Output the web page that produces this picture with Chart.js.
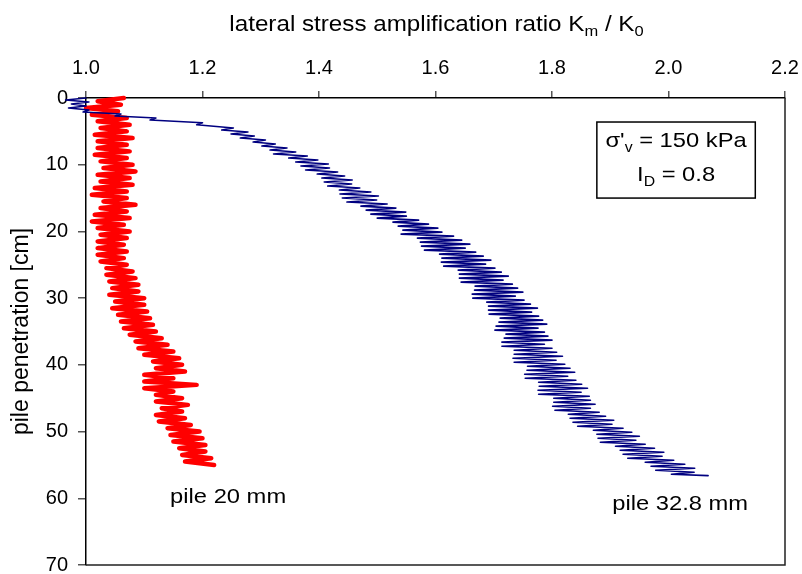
<!DOCTYPE html>
<html>
<head>
<meta charset="utf-8">
<script src="https://cdn.jsdelivr.net/npm/chart.js@4.4.1/dist/chart.umd.min.js"></script>
<style>
  html, body { margin: 0; padding: 0; background: #ffffff; }
  #grafico { display: block; }
</style>
</head>
<body>
<canvas id="grafico" width="802" height="574"></canvas>
<script>
// profundidad de penetración [cm] y relación Km/K0
const depthRed = [0,0.5,1,1.5,2,2.5,3,3.5,4,4.5,5,5.5,6,6.5,7,7.5,8,8.5,9,9.5,
  10,10.5,11,11.5,12,12.5,13,13.5,14,14.5,15,15.5,16,16.5,17,17.5,18,18.5,19,19.5,
  20,20.5,21,21.5,22,22.5,23,23.5,24,24.5,25,25.5,26,26.5,27,27.5,28,28.5,29,29.5,
  30,30.5,31,31.5,32,32.5,33,33.5,34,34.5,35,35.5,36,36.5,37,37.5,38,38.5,39,39.5,
  40,40.5,41,41.5,42,42.5,43,43.5,44,44.5,45,45.5,46,46.5,47,47.5,48,48.5,49,49.5,
  50,50.5,51,51.5,52,52.5,53,53.5,54,54.5,55];
const ratioRed = [1.065,1.02,1.06,1.0,1.055,1.01,1.07,1.02,1.075,1.025,1.07,1.015,1.08,1.02,1.07,1.02,1.075,1.015,1.07,1.025,
  1.08,1.03,1.085,1.02,1.075,1.025,1.08,1.015,1.07,1.01,1.07,1.03,1.085,1.025,1.07,1.015,1.075,1.01,1.065,1.02,
  1.075,1.025,1.07,1.02,1.065,1.02,1.07,1.02,1.065,1.025,1.07,1.035,1.08,1.035,1.085,1.04,1.09,1.045,1.09,1.04,
  1.1,1.05,1.1,1.045,1.105,1.055,1.11,1.06,1.115,1.065,1.12,1.075,1.13,1.085,1.14,1.09,1.15,1.1,1.16,1.115,
  1.165,1.12,1.17,1.1,1.15,1.1,1.19,1.1,1.15,1.12,1.165,1.12,1.175,1.13,1.165,1.12,1.17,1.125,1.18,1.14,
  1.195,1.145,1.2,1.15,1.205,1.16,1.205,1.165,1.215,1.17,1.22];

const depthBlue = [0,0.3,0.6,0.9,1.2,1.5,1.8,2.1,2.4,2.7,3,3.3,3.7,4,
  4.5,4.8,5.1,5.4,5.7,6,6.3,6.6,6.9,7.2,7.5,7.8,8.1,8.4,8.7,9,9.3,9.6,9.9,
  10.2,10.5,10.8,11.1,11.4,11.7,12,12.3,12.6,12.9,13.2,13.5,13.8,14.1,14.4,14.7,15,15.3,15.6,15.9,
  16.2,16.5,16.8,17.1,17.4,17.7,18,18.3,18.6,18.9,19.2,19.5,19.8,20.1,20.4,20.7,21,21.3,21.6,21.9,
  22.2,22.5,22.8,23.1,23.4,23.7,24,24.3,24.6,24.9,25.2,25.5,25.8,26.1,26.4,26.7,27,27.3,27.6,27.9,
  28.2,28.5,28.8,29.1,29.4,29.7,30,30.3,30.6,30.9,31.2,31.5,31.8,32.1,32.4,32.7,33,33.3,33.6,33.9,
  34.2,34.5,34.8,35.1,35.4,35.7,36,36.3,36.6,36.9,37.2,37.5,37.8,38.1,38.4,38.7,39,39.3,39.6,39.9,
  40.2,40.5,40.8,41.1,41.4,41.7,42,42.3,42.6,42.9,43.2,43.5,43.8,44.1,44.4,44.7,45,45.3,45.6,45.9,
  46.2,46.5,46.8,47.1,47.4,47.7,48,48.3,48.6,48.9,49.2,49.5,49.8,50.1,50.4,50.7,51,51.3,51.6,51.9,
  52.2,52.5,52.8,53.1,53.4,53.7,54,54.3,54.6,54.9,55.2,55.5,55.8,56.1,56.4,56.6];
const ratioBlue = [1.0,0.965,1.005,0.975,1.0,0.97,1.005,0.995,1.06,1.05,1.12,1.11,1.2,1.19,
  1.253,1.233,1.278,1.249,1.289,1.265,1.308,1.287,1.325,1.302,1.345,1.316,1.360,1.322,1.380,1.348,1.398,1.360,1.416,
  1.369,1.418,1.377,1.432,1.397,1.444,1.405,1.457,1.409,1.456,1.415,1.470,1.435,1.489,1.436,1.502,1.440,1.499,1.448,1.517,
  1.472,1.532,1.481,1.549,1.489,1.550,1.500,1.571,1.527,1.588,1.536,1.604,1.544,1.611,1.541,1.631,1.569,1.645,1.574,1.659,
  1.576,1.651,1.581,1.669,1.607,1.682,1.611,1.695,1.610,1.686,1.614,1.702,1.639,1.713,1.641,1.725,1.641,1.716,1.644,1.732,
  1.668,1.741,1.667,1.750,1.663,1.737,1.664,1.752,1.688,1.763,1.691,1.775,1.691,1.765,1.692,1.777,1.711,1.784,1.709,1.791,
  1.704,1.776,1.702,1.787,1.721,1.793,1.718,1.800,1.714,1.787,1.714,1.800,1.735,1.808,1.735,1.818,1.733,1.807,1.735,1.822,
  1.758,1.831,1.757,1.839,1.753,1.827,1.754,1.841,1.777,1.851,1.778,1.861,1.776,1.850,1.777,1.864,1.803,1.866,1.803,1.874,
  1.801,1.866,1.805,1.881,1.828,1.892,1.831,1.906,1.836,1.903,1.844,1.922,1.871,1.937,1.877,1.950,1.879,1.944,1.883,1.960,
  1.909,1.976,1.917,1.992,1.922,1.989,1.930,2.009,1.960,2.028,1.970,2.045,1.978,2.044,2.005,2.068];

const xTicks = [1.0, 1.2, 1.4, 1.6, 1.8, 2.0, 2.2];
const yTicks = [0, 10, 20, 30, 40, 50, 60, 70];
const curveLabels = ["pile 20 mm", "pile 32.8 mm"];

const FONT = "'Liberation Sans', Arial, sans-serif";

const toPoints = (xs, ys) => ys.map((y, i) => ({ x: xs[i], y: y }));

// texto con subíndices: partes [{t, sub}], estirado en horizontal
function drawRich(ctx, parts, cx, baseY, size, stretch) {
    const subSize = Math.round(size * 0.68);
    let total = 0;
    parts.forEach(p => {
        ctx.font = (p.sub ? subSize : size) + "px " + FONT;
        total += ctx.measureText(p.t).width;
    });
    ctx.save();
    ctx.translate(cx, baseY);
    ctx.scale(stretch || 1, 1);
    let x = -total / 2;
    ctx.textAlign = "left";
    ctx.textBaseline = "alphabetic";
    parts.forEach(p => {
        ctx.font = (p.sub ? subSize : size) + "px " + FONT;
        ctx.fillText(p.t, x, p.sub ? size * 0.22 : 0);
        x += ctx.measureText(p.t).width;
    });
    ctx.restore();
}

const annotationsPlugin = {
    id: "annotations",
    afterDraw(chart) {
        const { ctx, chartArea, scales } = chart;
        const sx = scales.x, sy = scales.y;
        ctx.save();
        // marco derecho e inferior
        ctx.strokeStyle = "#222";
        ctx.lineWidth = 1.5;
        ctx.beginPath();
        ctx.moveTo(chartArea.right, chartArea.top);
        ctx.lineTo(chartArea.right, chartArea.bottom);
        ctx.lineTo(chartArea.left, chartArea.bottom);
        ctx.stroke();

        ctx.fillStyle = "#000";
        // título del eje superior
        drawRich(ctx, [
            { t: "lateral stress amplification ratio K" },
            { t: "m", sub: true },
            { t: " / K" },
            { t: "0", sub: true }
        ], (chartArea.left + chartArea.right) / 2 + 1, 31, 22, 1.1);

        // etiquetas de curvas
        drawRich(ctx, [{ t: curveLabels[0] }], sx.getPixelForValue(1.244), sy.getPixelForValue(60.7), 21, 1.13);
        drawRich(ctx, [{ t: curveLabels[1] }], sx.getPixelForValue(2.02), sy.getPixelForValue(61.8), 21, 1.13);

        // recuadro de condiciones
        const bx1 = sx.getPixelForValue(1.877), bx2 = sx.getPixelForValue(2.149);
        const by1 = sy.getPixelForValue(3.6), by2 = sy.getPixelForValue(15.0);
        ctx.strokeStyle = "#000";
        ctx.lineWidth = 1.5;
        ctx.strokeRect(bx1, by1, bx2 - bx1, by2 - by1);
        const bc = (bx1 + bx2) / 2;
        drawRich(ctx, [{ t: "\u03C3'" }, { t: "v", sub: true }, { t: " = 150 kPa" }], bc, sy.getPixelForValue(7.4), 21, 1.13);
        drawRich(ctx, [{ t: "I" }, { t: "D", sub: true }, { t: " = 0.8" }], bc, sy.getPixelForValue(12.5), 21, 1.13);
        ctx.restore();
    }
};

const ctx = document.getElementById("grafico").getContext("2d");
new Chart(ctx, {
    type: "scatter",
    data: {
        datasets: [{
            label: curveLabels[1],
            data: toPoints(ratioBlue, depthBlue),
            showLine: true,
            borderColor: "#000080",
            borderWidth: 1.6,
            borderJoinStyle: "round",
            borderCapStyle: "round",
            pointRadius: 0,
            tension: 0,
            clip: false,
            order: 0
        }, {
            label: curveLabels[0],
            data: toPoints(ratioRed, depthRed),
            showLine: true,
            borderColor: "#ff0000",
            borderWidth: 4.5,
            borderJoinStyle: "round",
            borderCapStyle: "round",
            pointRadius: 0,
            tension: 0,
            clip: false,
            order: 1
        }]
    },
    options: {
        responsive: false,
        animation: false,
        layout: { padding: { left: 0, top: 0, right: 17, bottom: 9 } },
        plugins: {
            legend: { display: false },
            tooltip: { enabled: false }
        },
        scales: {
            x: {
                type: "linear",
                position: "top",
                min: xTicks[0],
                max: xTicks[xTicks.length - 1],
                afterBuildTicks: (scale) => { scale.ticks = xTicks.map(v => ({ value: v })); },
                afterFit: (scale) => {
                    scale.height = 98;
                    scale.paddingLeft = 0;
                    scale.paddingRight = 0;
                },
                ticks: {
                    color: "#000",
                    padding: 11,
                    font: { family: FONT, size: 20 },
                    callback: (v) => Number(v).toFixed(1)
                },
                grid: { drawOnChartArea: false, drawTicks: true, tickLength: 7, color: "#555", lineWidth: 1.5 },
                border: { display: true, color: "#000", width: 1.5 }
            },
            y: {
                type: "linear",
                reverse: true,
                min: yTicks[0],
                max: yTicks[yTicks.length - 1],
                afterBuildTicks: (scale) => { scale.ticks = yTicks.map(v => ({ value: v })); },
                afterFit: (scale) => {
                    scale.width = 86;
                    scale.paddingTop = 0;
                    scale.paddingBottom = 0;
                },
                title: {
                    display: true,
                    text: "pile penetration [cm]",
                    color: "#000",
                    font: { family: FONT, size: 23 },
                    padding: { top: 8, bottom: 0 }
                },
                ticks: {
                    color: "#000",
                    padding: 10,
                    font: { family: FONT, size: 20 }
                },
                grid: { drawOnChartArea: false, drawTicks: true, tickLength: 8, color: "#555", lineWidth: 1.5 },
                border: { display: true, color: "#000", width: 1.5 }
            }
        }
    },
    plugins: [annotationsPlugin]
});
</script>
</body>
</html>
